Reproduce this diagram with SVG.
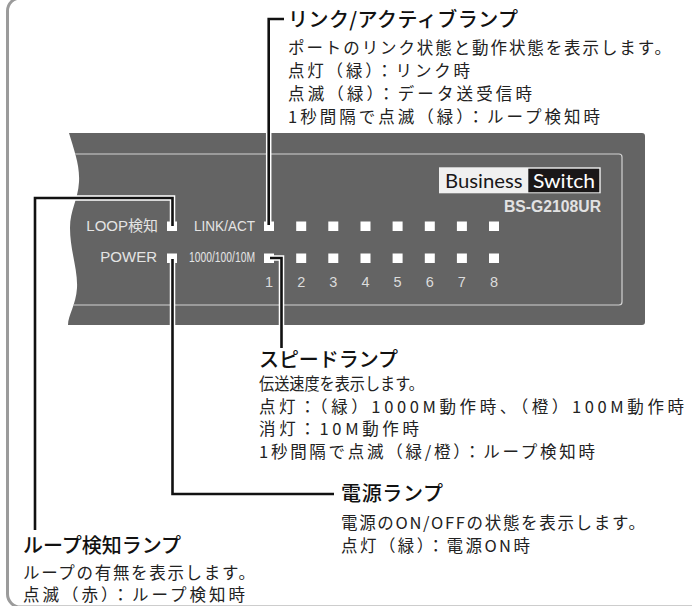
<svg xmlns="http://www.w3.org/2000/svg" width="692" height="606" viewBox="0 0 692 606">
  <style>
    .frame { fill: none; stroke: #9b9b9b; stroke-width: 3; }
    .body { fill: #646464; }
    .panel { fill: none; stroke: #d2d2d2; stroke-width: 1.2; }
    .led { fill: #ffffff; }
    .dev { font-family: "Liberation Sans", Arial, sans-serif; fill: #e4e4e4; font-size: 15px; }
    .devjp { font-family: "Liberation Sans", "Noto Sans CJK JP", sans-serif; fill: #e4e4e4; font-size: 15px; }
    .num { font-family: "Liberation Sans", Arial, sans-serif; fill: #dcdcdc; font-size: 14.5px; text-anchor: middle; }
    .title { font-family: "Noto Sans CJK JP", sans-serif; font-size: 20px; font-weight: 500; fill: #111; }
    .desc { font-family: "Noto Sans CJK JP", sans-serif; font-size: 16.5px; fill: #222; }
    .halo { fill: none; stroke: #ffffff; stroke-width: 5.5; stroke-linejoin: miter; }
    .wire { fill: none; stroke: #111111; stroke-width: 2.6; stroke-linejoin: miter; }
  </style>
  <defs>
    <clipPath id="bodyClip">
      <path d="M69,133 L642,133 Q645,133 645,136 L645,322 Q645,325 642,325 L68,325 C68,315 76,305 77,288 C78,270 70,250 70,228 C70,210 78,200 79,182 C80,165 74,150 69,133 Z"/>
    </clipPath>
  </defs>

  <rect width="692" height="606" fill="#ffffff"/>

  <!-- outer rounded frame -->
  <rect class="frame" x="7.5" y="-2" width="760" height="609" rx="13" ry="13"/>

  <!-- switch front panel -->
  <g id="switch">
    <path class="body" d="M69,133 L642,133 Q645,133 645,136 L645,322 Q645,325 642,325 L68,325 C68,315 76,305 77,288 C78,270 70,250 70,228 C70,210 78,200 79,182 C80,165 74,150 69,133 Z"/>
    <rect class="panel" x="40" y="154" width="582" height="151" rx="3" ry="3" clip-path="url(#bodyClip)"/>

    <!-- brand plate -->
    <rect x="439" y="167.3" width="161.7" height="26" fill="#f0f0f0"/>
    <rect x="528.3" y="168.7" width="71" height="23.6" fill="#1a1718"/>
    <text x="445" y="187.5" font-family="Lato, 'Open Sans', sans-serif" font-size="19.5" fill="#1a1718" textLength="77.5" lengthAdjust="spacingAndGlyphs">Business</text>
    <text x="533" y="187.5" font-family="Lato, 'Open Sans', sans-serif" font-size="19.5" fill="#ffffff" textLength="62" lengthAdjust="spacingAndGlyphs">Switch</text>
    <text x="504" y="212.3" font-family="'Liberation Sans', Arial, sans-serif" font-size="15.6" font-weight="bold" fill="#e2e2e2" textLength="97" lengthAdjust="spacingAndGlyphs">BS-G2108UR</text>

    <!-- row labels -->
    <text class="devjp" x="158" y="231" text-anchor="end">LOOP検知</text>
    <text class="dev" x="194" y="231" textLength="61" lengthAdjust="spacingAndGlyphs">LINK/ACT</text>
    <text class="dev" x="157" y="262" text-anchor="end">POWER</text>
    <text class="dev" x="189" y="262.3" font-size="12.5" textLength="66" lengthAdjust="spacingAndGlyphs">1000/100/10M</text>

    <!-- status lamps -->
    <rect class="led" x="167" y="221.5" width="10" height="9.5"/>
    <rect class="led" x="167" y="253.5" width="10" height="9.5"/>
    <g id="link-leds">
      <rect class="led" x="264" y="221.5" width="10" height="9.5"/>
      <rect class="led" x="296.2" y="221.5" width="10" height="9.5"/>
      <rect class="led" x="328.3" y="221.5" width="10" height="9.5"/>
      <rect class="led" x="360.5" y="221.5" width="10" height="9.5"/>
      <rect class="led" x="392.6" y="221.5" width="10" height="9.5"/>
      <rect class="led" x="424.8" y="221.5" width="10" height="9.5"/>
      <rect class="led" x="456.9" y="221.5" width="10" height="9.5"/>
      <rect class="led" x="489" y="221.5" width="10" height="9.5"/>
    </g>
    <g id="speed-leds">
      <rect class="led" x="264" y="253.5" width="10" height="9.5"/>
      <rect class="led" x="296.2" y="253.5" width="10" height="9.5"/>
      <rect class="led" x="328.3" y="253.5" width="10" height="9.5"/>
      <rect class="led" x="360.5" y="253.5" width="10" height="9.5"/>
      <rect class="led" x="392.6" y="253.5" width="10" height="9.5"/>
      <rect class="led" x="424.8" y="253.5" width="10" height="9.5"/>
      <rect class="led" x="456.9" y="253.5" width="10" height="9.5"/>
      <rect class="led" x="489" y="253.5" width="10" height="9.5"/>
    </g>
    <g id="port-numbers">
      <text class="num" x="269" y="287">1</text>
      <text class="num" x="301.2" y="287">2</text>
      <text class="num" x="333.3" y="287">3</text>
      <text class="num" x="365.5" y="287">4</text>
      <text class="num" x="397.6" y="287">5</text>
      <text class="num" x="429.8" y="287">6</text>
      <text class="num" x="461.9" y="287">7</text>
      <text class="num" x="494" y="287">8</text>
    </g>
  </g>

  <!-- leader lines -->
  <g id="connectors">
    <path class="halo" d="M284,19 H268.7 V225"/>
    <path class="halo" d="M172.5,226 V198 H35 V530"/>
    <path class="halo" d="M172.5,259 V494 H334"/>
    <path class="halo" d="M270,258 H281.5 V348"/>
    <path class="wire" d="M284,19 H268.7 V225"/>
    <path class="wire" d="M172.5,226 V198 H35 V530"/>
    <path class="wire" d="M172.5,259 V494 H334"/>
    <path class="wire" d="M270,258 H281.5 V348"/>
  </g>

  <!-- callout: link/activity lamp -->
  <g id="link-act-lamp">
    <text class="title" x="288" y="27" textLength="230" lengthAdjust="spacing">リンク/アクティブランプ</text>
    <text class="desc" x="288" y="54" textLength="383" lengthAdjust="spacing">ポートのリンク状態と動作状態を表示します。</text>
    <text class="desc" x="288" y="77" textLength="182" lengthAdjust="spacing">点灯（緑）：リンク時</text>
    <text class="desc" x="288" y="100" textLength="244" lengthAdjust="spacing">点滅（緑）：データ送受信時</text>
    <text class="desc" x="288" y="123" textLength="312" lengthAdjust="spacing">1秒間隔で点滅（緑）：ループ検知時</text>
  </g>

  <!-- callout: speed lamp -->
  <g id="speed-lamp">
    <text class="title" x="259" y="367" textLength="139" lengthAdjust="spacing">スピードランプ</text>
    <text class="desc" x="259" y="390" textLength="165" lengthAdjust="spacingAndGlyphs">伝送速度を表示します。</text>
    <text class="desc" x="259" y="412.5" textLength="425" lengthAdjust="spacing">点灯：（緑）1000M動作時、（橙）100M動作時</text>
    <text class="desc" x="259" y="435" textLength="160" lengthAdjust="spacing">消灯：10M動作時</text>
    <text class="desc" x="259" y="458" textLength="336" lengthAdjust="spacing">1秒間隔で点滅（緑/橙）：ループ検知時</text>
  </g>

  <!-- callout: power lamp -->
  <g id="power-lamp">
    <text class="title" x="341" y="501" textLength="102" lengthAdjust="spacing">電源ランプ</text>
    <text class="desc" x="341" y="529" textLength="304" lengthAdjust="spacing">電源のON/OFFの状態を表示します。</text>
    <text class="desc" x="341" y="552" textLength="189" lengthAdjust="spacing">点灯（緑）：電源ON時</text>
  </g>

  <!-- callout: loop detection lamp -->
  <g id="loop-lamp">
    <text class="title" x="23" y="553" textLength="158" lengthAdjust="spacing">ループ検知ランプ</text>
    <text class="desc" x="23" y="578.5" textLength="232" lengthAdjust="spacing">ループの有無を表示します。</text>
    <text class="desc" x="23" y="600.5" textLength="222" lengthAdjust="spacing">点滅（赤）：ループ検知時</text>
  </g>
</svg>
